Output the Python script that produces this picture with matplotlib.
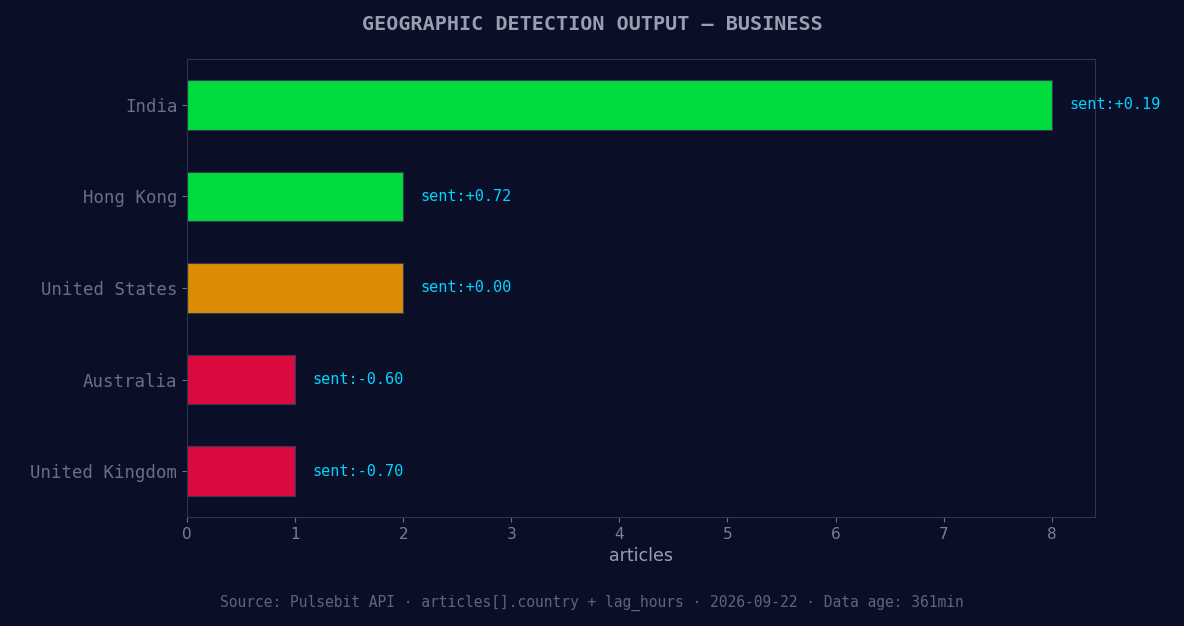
import matplotlib
matplotlib.use("Agg")
import matplotlib.pyplot as plt

countries = ["India", "Hong Kong", "United States", "Australia", "United Kingdom"]
articles = [8, 2, 2, 1, 1]
sentiment = [0.19, 0.72, 0.00, -0.60, -0.70]
bar_colors = ["#00dc3c", "#00dc3c", "#da8c04", "#da0a3e", "#da0a3e"]

bg = "#0a0e27"
fig = plt.figure(figsize=(11.84, 6.26), dpi=100, facecolor=bg)
ax = fig.add_axes([187 / 1184, 1 - 517 / 626, 908 / 1184, 458 / 626], facecolor=bg)

y = list(range(len(countries)))[::-1]
ax.barh(y, articles, height=0.54, color=bar_colors, edgecolor="#333a55", linewidth=0.8)
for yi, a, s in zip(y, articles, sentiment):
    ax.text(a + 0.16, yi, f"sent:{s:+.2f}", color="#00d4ff", fontsize=11,
            family="DejaVu Sans Mono", va="center")

ax.set_yticks(y)
ax.set_yticklabels(countries, family="DejaVu Sans Mono", fontsize=12.5, color="#e6e8f0")
ax.set_xlim(0, 8.4)
ax.set_ylim(-0.5, 4.5)
ax.set_xticks(range(9))
ax.tick_params(axis="x", colors="#6b7089", labelsize=11)
ax.tick_params(axis="y", colors="#6b7089")
for lab in ax.get_xticklabels():
    lab.set_color("#7a7f96")
for sp in ax.spines.values():
    sp.set_color("#2e3350")
ax.set_xlabel("articles", color="#9a9eb0", fontsize=12.5)

fig.text(0.5, 1 - 24 / 626, "GEOGRAPHIC DETECTION OUTPUT — BUSINESS", ha="center", va="center",
         family="DejaVu Sans Mono", fontweight="bold", fontsize=14.5, color="#9a9eb0")
fig.text(0.5, 1 - 603 / 626,
         "Source: Pulsebit API · articles[].country + lag_hours · 2026-09-22 · Data age: 361min",
         ha="center", va="center", family="DejaVu Sans Mono", fontsize=10.5, color="#5f6480")

fig.savefig("out.png", facecolor=bg)
